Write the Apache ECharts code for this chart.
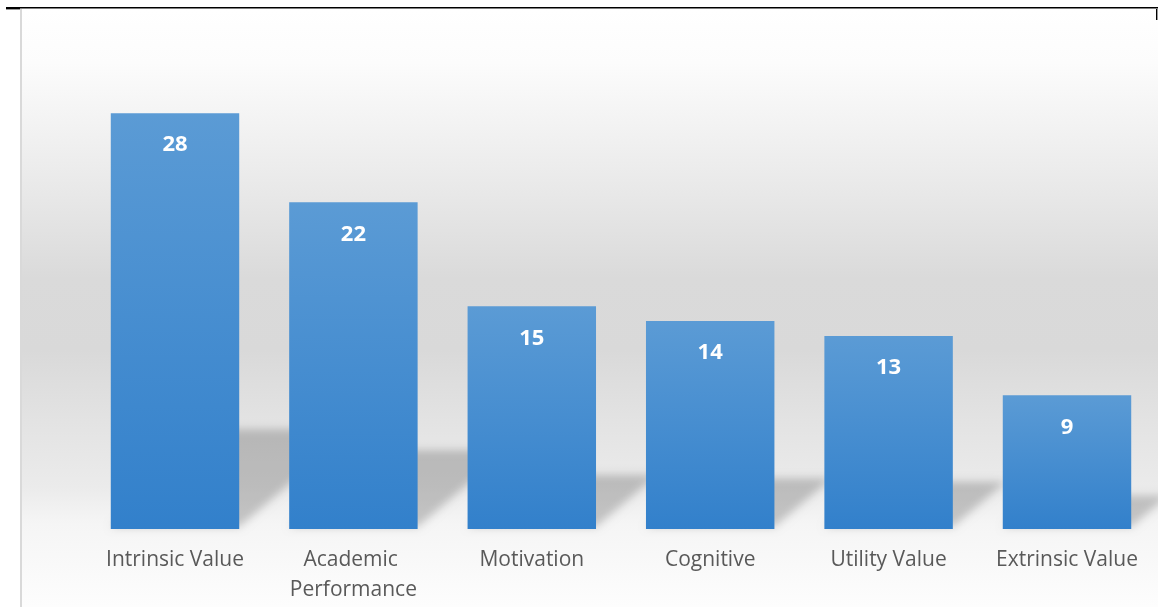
<!DOCTYPE html>
<html>
<head>
<meta charset="utf-8">
<script src="https://cdn.jsdelivr.net/npm/echarts@6/dist/echarts.min.js"></script>
<style>
  html, body { margin: 0; padding: 0; background: #fff; }
  #chart { width: 1158px; height: 607px; }
</style>
</head>
<body>
<div id="chart"></div>
<script>
// ── 数据 ─────────────────────────────
const categories = ["Intrinsic Value", "Academic Performance", "Motivation", "Cognitive", "Utility Value", "Extrinsic Value"];
const counts = [28, 22, 15, 14, 13, 9];

const chart = echarts.init(document.getElementById("chart"));

// 柱子的透视阴影 (向右上方倾斜, 只画模糊的投影)
const SHIFT = 3000;
function renderShadow(params, api) {
  const base = api.coord([api.value(0), 0]);
  const top = api.coord([api.value(0), api.value(1)]);
  const bw = api.size([1, 0])[0] * 0.72;
  const h = base[1] - top[1];
  const dy = h * 0.235, dx = dy * 1.17;
  const x0 = base[0] - bw / 2 - SHIFT, x1 = base[0] + bw / 2 - SHIFT, yb = base[1] - 2;
  return {
    type: "polygon",
    shape: { points: [[x0, yb], [x1, yb], [x1 + dx, yb - dy], [x0 + dx, yb - dy]] },
    style: {
      fill: "#000",
      shadowBlur: 9,
      shadowOffsetX: SHIFT,
      shadowColor: "rgba(0,0,0,0.2)",
    },
  };
}

chart.setOption({
  animation: false,
  backgroundColor: "#ffffff",
  graphic: [
    // 背景渐变
    { type: "rect", z: -10, shape: { x: 21, y: 9, width: 1137, height: 598 },
      style: { fill: new echarts.graphic.LinearGradient(0, 0, 0, 1, [
        { offset: 0, color: "#ffffff" },
        { offset: 0.09, color: "#fcfcfc" },
        { offset: 0.2, color: "#f2f2f2" },
        { offset: 0.32, color: "#e7e7e7" },
        { offset: 0.45, color: "#dadada" },
        { offset: 0.57, color: "#d9d9d9" },
        { offset: 0.69, color: "#e3e3e3" },
        { offset: 0.8, color: "#ebebeb" },
        { offset: 0.86, color: "#f5f5f5" },
        { offset: 1, color: "#fdfdfd" },
      ]) } },
    // 边框线
    { type: "rect", z: 10, shape: { x: 6, y: 7, width: 1152, height: 1.6 }, style: { fill: "#000" } },
    { type: "rect", z: 10, shape: { x: 6, y: 7, width: 14, height: 2.4 }, style: { fill: "#000" } },
    { type: "rect", z: 10, shape: { x: 20, y: 9, width: 2, height: 598 }, style: { fill: "#d9d9d9" } },
    { type: "rect", z: 10, shape: { x: 1156, y: 9, width: 1.4, height: 11 }, style: { fill: "#000" } },
  ],
  grid: { left: 85.8, right: 1.8, top: 83.5, bottom: 78 },
  xAxis: {
    type: "category",
    data: categories,
    axisLine: { show: false },
    axisTick: { show: false },
    axisLabel: {
      margin: 16, color: "#595959", fontSize: 21, lineHeight: 30,
      fontFamily: "Open Sans", width: 170, overflow: "break", interval: 0,
    },
  },
  yAxis: { type: "value", min: 0, max: 30, show: false, splitLine: { show: false } },
  series: [
    {
      type: "custom",
      z: 1,
      renderItem: renderShadow,
      encode: { x: 0, y: 1 },
      data: counts.map((v, i) => [i, v]),
      silent: true,
      clip: false,
    },
    {
      type: "bar",
      z: 2,
      data: counts,
      barCategoryGap: "28%",
      itemStyle: {
        color: new echarts.graphic.LinearGradient(0, 0, 0, 1, [
          { offset: 0, color: "#5b9bd5" },
          { offset: 1, color: "#3280cb" },
        ]),
      },
      label: {
        show: true, position: "insideTop", distance: 21,
        color: "#fff", fontSize: 22, fontWeight: "bold", fontFamily: "Open Sans",
      },
    },
  ],
});
</script>
</body>
</html>
